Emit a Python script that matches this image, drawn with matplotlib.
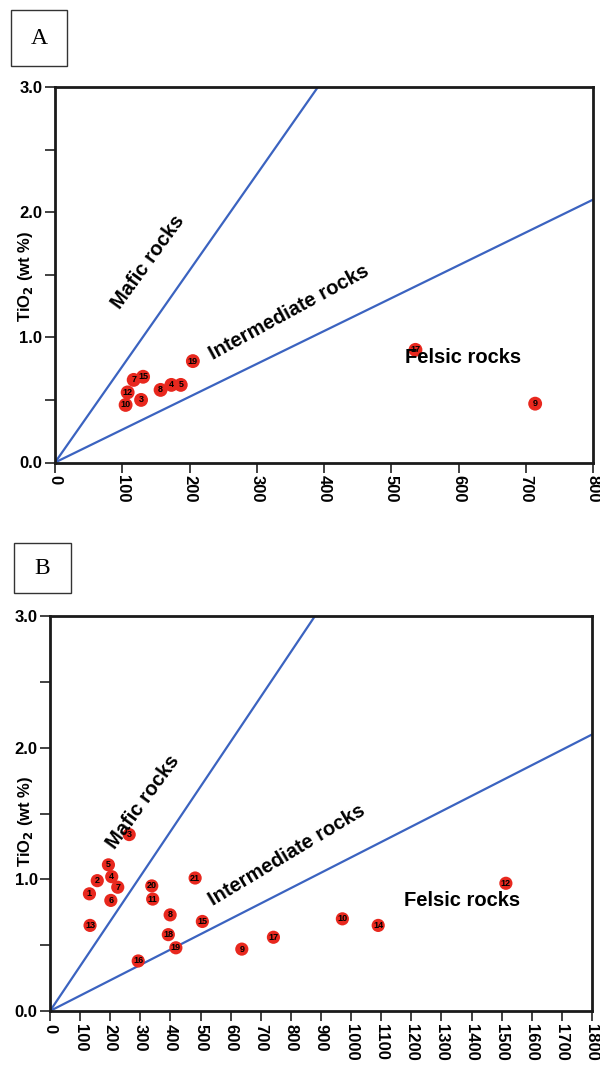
import matplotlib
matplotlib.use("Agg")
import matplotlib.pyplot as plt
from matplotlib.patches import Rectangle

plt.rcParams['font.family'] = ['Liberation Sans', 'DejaVu Sans']

# ---------------- data ----------------
# Panel A
A_labels = ['10', '12', '7', '15', '3', '8', '4', '5', '19', '17', '9']
A_x = [105, 108, 117, 131, 128, 157, 173, 187, 205, 536, 714]
A_y = [0.46, 0.56, 0.66, 0.685, 0.50, 0.58, 0.62, 0.62, 0.81, 0.90, 0.47]
A_mafic_x = [0, 391]
A_mafic_y = [0.0, 3.0]
A_inter_x = [0, 800]
A_inter_y = [0.0, 2.10]
A_xticks = list(range(0, 801, 100))

# Panel B
B_labels = ['3', '5', '2', '4', '7', '1', '6', '13', '20', '11', '21', '8', '15',
            '18', '19', '16', '9', '17', '10', '14', '12']
B_x = [263, 194, 157, 205, 225, 131, 202, 133, 338, 341, 482, 399, 506,
       393, 418, 293, 637, 742, 971, 1090, 1514]
B_y = [1.34, 1.11, 0.99, 1.02, 0.94, 0.89, 0.84, 0.65, 0.95, 0.85, 1.01, 0.73, 0.68,
       0.58, 0.48, 0.38, 0.47, 0.56, 0.70, 0.65, 0.97]
B_mafic_x = [0, 880]
B_mafic_y = [0.0, 3.0]
B_inter_x = [0, 1800]
B_inter_y = [0.0, 2.10]
B_xticks = list(range(0, 1801, 100))

yticks_major = [0.0, 1.0, 2.0, 3.0]
yticks_minor = [0.5, 1.5, 2.5]

LINE_C = '#3b63c0'
PT_C = '#e8281e'

fig = plt.figure(figsize=(6.0, 10.7), dpi=100)


def panel(rect, xs, ys, labels, mx, my, ix, iy, xticks, xmax,
          mafic_pos, mafic_rot, inter_pos, inter_rot, felsic_pos, ylab_xy, msize):
    ax = fig.add_axes(rect)
    ax.set_xlim(0, xmax)
    ax.set_ylim(0, 3.0)
    ax.plot(mx, my, color=LINE_C, lw=1.6, zorder=2)
    ax.plot(ix, iy, color=LINE_C, lw=1.6, zorder=2)
    ax.scatter(xs, ys, s=msize, color=PT_C, edgecolors='none', zorder=3)
    for x, y, t in zip(xs, ys, labels):
        ax.text(x, y, t, fontsize=6.5, fontweight='bold', ha='center', va='center',
                color='black', zorder=4)
    ax.text(*mafic_pos, 'Mafic rocks', rotation=mafic_rot, rotation_mode='anchor',
            ha='center', va='center', fontsize=14.5, fontweight='bold', zorder=5)
    ax.text(*inter_pos, 'Intermediate rocks', rotation=inter_rot, rotation_mode='anchor',
            ha='center', va='center', fontsize=14.5, fontweight='bold', zorder=5)
    ax.text(*felsic_pos, 'Felsic rocks', ha='center', va='center',
            fontsize=14.5, fontweight='bold', zorder=5)
    ax.set_xticks(xticks)
    ax.set_xticklabels([str(v) for v in xticks], rotation=-90, fontsize=12,
                       fontweight='bold', va='top', ha='center')
    ax.set_yticks(yticks_major)
    ax.set_yticklabels(['%.1f' % v for v in yticks_major], fontsize=12,
                       fontweight='bold')
    ax.set_yticks(yticks_minor, minor=True)
    ax.tick_params(axis='both', which='major', direction='out', length=7, width=1.3,
                   color='#333333', pad=2)
    ax.tick_params(axis='y', which='minor', direction='out', length=7, width=1.3,
                   color='#333333')
    for sp in ax.spines.values():
        sp.set_linewidth(2.0)
        sp.set_color('#1a1a1a')
    ax.set_ylabel('TiO$_\\mathbf{2}$ (wt %)', fontsize=12, fontweight='bold')
    ax.yaxis.set_label_coords(*ylab_xy)
    return ax


axA = panel([55 / 600, 1 - 462.5 / 1070, 538 / 600, 375.5 / 1070],
            A_x, A_y, A_labels, A_mafic_x, A_mafic_y, A_inter_x, A_inter_y,
            A_xticks, 800, (138, 1.60), 54, (348, 1.20), 28.5, (607, 0.84),
            (-0.037, 0.495), 100)
axB = panel([50 / 600, 1 - 1011 / 1070, 542 / 600, 395 / 1070],
            B_x, B_y, B_labels, B_mafic_x, B_mafic_y, B_inter_x, B_inter_y,
            B_xticks, 1800, (309, 1.59), 54, (787, 1.18), 31, (1367, 0.84),
            (-0.028, 0.48), 90)

# panel letter boxes
for (x0, y0, w, h, letter) in [(11, 10, 56, 56, 'A'), (14, 543, 57, 50, 'B')]:
    fig.patches.append(Rectangle((x0 / 600, 1 - (y0 + h) / 1070), w / 600, h / 1070,
                                 transform=fig.transFigure, fill=False,
                                 edgecolor='#333333', lw=1.0))
    fig.text((x0 + w / 2) / 600, 1 - (y0 + h / 2 + 1) / 1070, letter,
             family='Liberation Serif', fontsize=17, ha='center', va='center')

fig.savefig('out.png', dpi=100)
